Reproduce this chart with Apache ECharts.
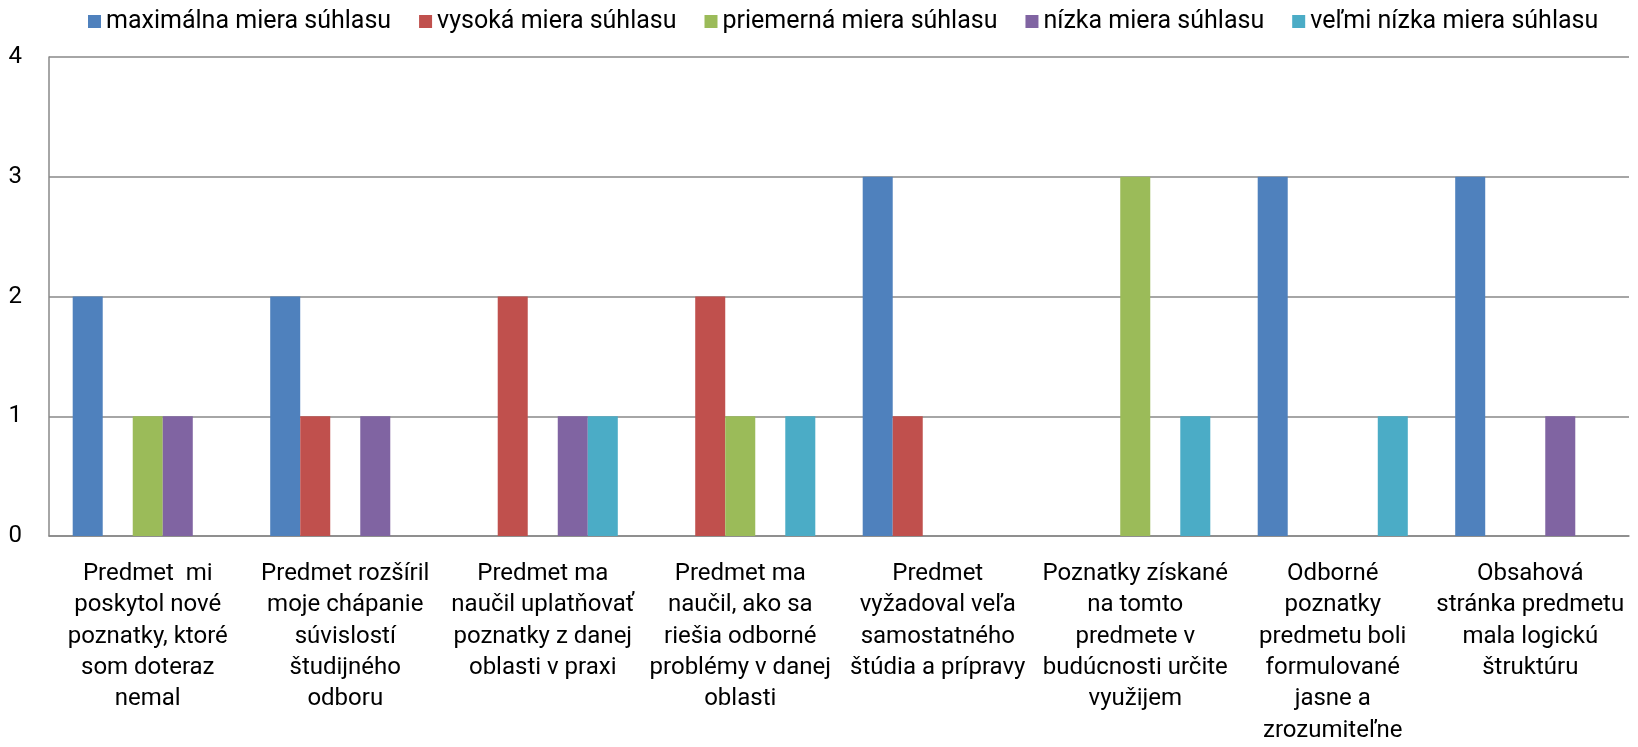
<!DOCTYPE html>
<html>
<head>
<meta charset="utf-8">
<script src="https://cdn.jsdelivr.net/npm/echarts@6/dist/echarts.min.js"></script>
<style>
  html, body { margin: 0; padding: 0; background: #fff; }
  #chart { width: 1638px; height: 747px; }
</style>
</head>
<body>
<div id="chart"></div>
<script>
// kategórie (zalomenie riadkov ako v pôvodnom grafe)
var categories = [
  'Predmet  mi\nposkytol nové\npoznatky, ktoré\nsom doteraz\nnemal',
  'Predmet rozšíril\nmoje chápanie\nsúvislostí\nštudijného\nodboru',
  'Predmet ma\nnaučil uplatňovať\npoznatky z danej\noblasti v praxi',
  'Predmet ma\nnaučil, ako sa\nriešia odborné\nproblémy v danej\noblasti',
  'Predmet\nvyžadoval veľa\nsamostatného\nštúdia a prípravy',
  'Poznatky získané\nna tomto\npredmete v\nbudúcnosti určite\nvyužijem',
  'Odborné\npoznatky\npredmetu boli\nformulované\njasne a\nzrozumiteľne',
  'Obsahová\nstránka predmetu\nmala logickú\nštruktúru'
];
var seriesNames = [
  'maximálna miera súhlasu',
  'vysoká miera súhlasu',
  'priemerná miera súhlasu',
  'nízka miera súhlasu',
  'veľmi nízka miera súhlasu'
];
var maximalna = [2, 2, 0, 0, 3, 0, 3, 3];
var vysoka    = [0, 1, 2, 2, 1, 0, 0, 0];
var priemerna = [1, 0, 0, 1, 0, 3, 0, 0];
var nizka     = [1, 1, 1, 0, 0, 0, 0, 1];
var velmiNizka = [0, 0, 1, 1, 0, 1, 1, 0];
var yTicks = [0, 1, 2, 3, 4];

var colors = ['#4F81BD', '#C0504D', '#9BBB59', '#8064A2', '#4BACC6'];
var values = [maximalna, vysoka, priemerna, nizka, velmiNizka];
var font = 'Roboto';

var myChart = echarts.init(document.getElementById('chart'));
myChart.setOption({
  animation: false,
  color: colors,
  textStyle: { fontFamily: font },
  legend: {
    data: seriesNames,
    left: 88,
    top: 9,
    padding: 0,
    itemWidth: 13,
    itemHeight: 13,
    itemGap: 28,
    icon: 'rect',
    textStyle: { fontFamily: font, fontSize: 25, color: '#000' }
  },
  grid: {
    left: 49,
    right: 9,
    top: 57,
    bottom: 211,
    containLabel: false
  },
  xAxis: {
    type: 'category',
    data: categories,
    axisLine: { show: true, lineStyle: { color: '#888888', width: 1.5 } },
    axisTick: { show: false },
    axisLabel: {
      interval: 0,
      margin: 22,
      color: '#000',
      fontFamily: font,
      fontSize: 24,
      lineHeight: 31.4,
      align: 'center'
    }
  },
  yAxis: {
    type: 'value',
    min: yTicks[0],
    max: yTicks[yTicks.length - 1],
    interval: 1,
    axisLine: { show: true, lineStyle: { color: '#888888', width: 1.5 } },
    axisTick: { show: false },
    axisLabel: {
      margin: 27,
      color: '#000',
      fontFamily: font,
      fontSize: 24
    },
    splitLine: { show: true, lineStyle: { color: '#888888', width: 1.5 } }
  },
  series: seriesNames.map(function (name, i) {
    return {
      name: name,
      type: 'bar',
      data: values[i],
      barGap: '0%',
      barCategoryGap: '24%'
    };
  })
});
</script>
</body>
</html>
